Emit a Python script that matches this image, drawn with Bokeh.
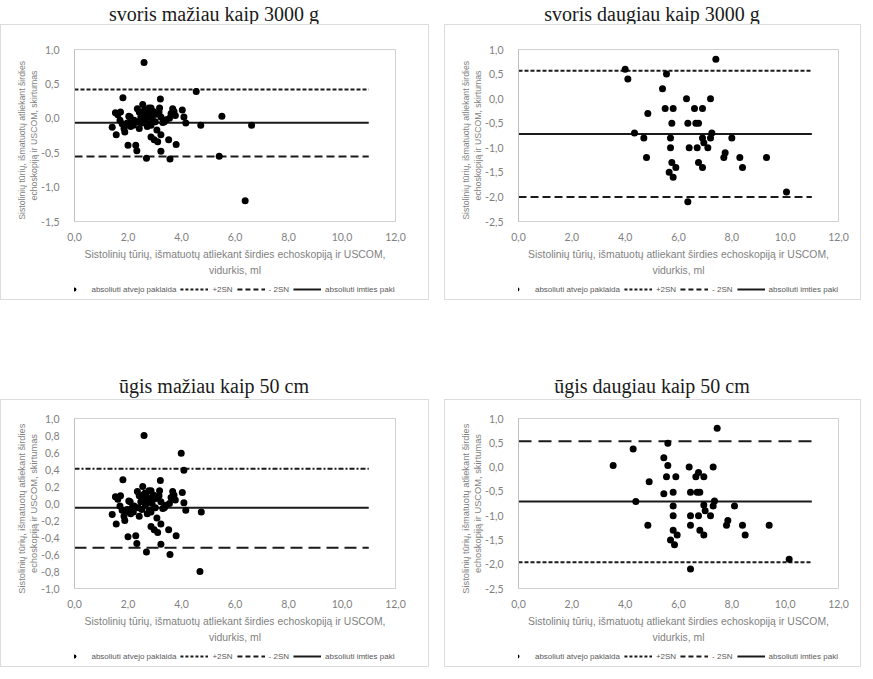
from bokeh.plotting import figure
from bokeh.layouts import column, row
from bokeh.models import FixedTicker, Legend, LegendItem, Range1d, Title
from bokeh.embed import file_html
from bokeh.resources import INLINE

# ---------------- data ----------------
TITLES = ["svoris mažiau kaip 3000 g", "svoris daugiau kaip 3000 g",
          "ūgis mažiau kaip 50 cm", "ūgis daugiau kaip 50 cm"]
X_LABEL_LINES = ["Sistolinių tūrių, išmatuotų atliekant širdies echoskopiją ir USCOM,", "vidurkis, ml"]
Y_LABEL_LINES = ["Sistolinių  tūrių,  išmatuotų  atliekant  širdies", "echoskopiją ir USCOM, skirtumas"]
LEGEND_LABELS = ["absoliuti atvejo paklaida", "+2SN", "- 2SN", "absoliuti imties paklaida"]

X_TICKS = [0, 2, 4, 6, 8, 10, 12]
X_TICK_LABELS = ["0,0", "2,0", "4,0", "6,0", "8,0", "10,0", "12,0"]
Y_TICKS_A = [-1.5, -1.0, -0.5, 0.0, 0.5, 1.0]
Y_TICK_LABELS_A = ["-1,5", "-1,0", "-0,5", "0,0", "0,5", "1,0"]
Y_TICKS_B = [-2.5, -2.0, -1.5, -1.0, -0.5, 0.0, 0.5, 1.0]
Y_TICK_LABELS_B = ["-2,5", "-2,0", "-1,5", "-1,0", "-0,5", "0,0", "0,5", "1,0"]
Y_TICKS_C = [-1.0, -0.8, -0.6, -0.4, -0.2, 0.0, 0.2, 0.4, 0.6, 0.8, 1.0]
Y_TICK_LABELS_C = ["-1,0", "-0,8", "-0,6", "-0,4", "-0,2", "0,0", "0,2", "0,4", "0,6", "0,8", "1,0"]

LINE_X = [0.0, 11.0]

# panel 1: svoris < 3000 g
P1_X = [1.41, 1.56, 1.53, 1.62, 1.72, 1.70, 1.78, 1.81, 1.85, 1.88, 1.92, 1.97, 2.00, 2.03,
        2.08, 2.10, 2.15, 2.20, 2.23, 2.29, 2.33, 2.35, 2.38, 2.42, 2.42, 2.48, 2.52, 2.55,
        2.57, 2.60, 2.60, 2.63, 2.65, 2.69, 2.70, 2.72, 2.75, 2.78, 2.80, 2.83, 2.86, 2.86,
        2.86, 2.90, 2.95, 2.98, 3.02, 3.05, 3.08, 3.11, 3.16, 3.18, 3.21, 3.23, 3.23, 3.23,
        3.30, 3.36, 3.42, 3.52, 3.55, 3.57, 3.61, 3.67, 3.72, 3.77, 3.80, 4.03, 4.09, 4.16,
        4.55, 4.72, 5.41, 5.51, 6.38, 6.62]
P1_Y = [-0.13, -0.24, 0.08, 0.05, 0.09, -0.03, -0.08, 0.30, -0.15, -0.20, -0.10, -0.07, -0.39, 0.03,
        0.02, -0.12, -0.05, -0.10, -0.03, -0.39, -0.47, 0.14, -0.05, 0.09, -0.15, 0.02, -0.07, 0.20,
        0.10, 0.81, 0.05, 0.12, -0.02, -0.58, 0.08, -0.12, 0.02, 0.15, -0.08, 0.05, 0.15, -0.10,
        -0.27, 0.00, 0.10, -0.31, -0.05, 0.06, -0.17, -0.34, 0.09, 0.15, 0.28, 0.02, -0.24, -0.48,
        -0.06, -0.05, -0.02, -0.31, 0.00, -0.59, 0.07, 0.14, 0.10, 0.04, -0.38, 0.12, 0.02, -0.07,
        0.39, -0.10, -0.55, 0.03, -1.20, -0.10]
P1_LIMITS = [0.42, -0.065, -0.555]   # +2SN, mean, -2SN

# panel 2: svoris > 3000 g
P2_X = [4.0, 4.1, 7.4, 5.55, 5.4, 6.3, 7.2, 5.5, 5.8, 6.6, 6.9, 4.85, 5.75, 6.35, 6.65, 6.75,
        4.35, 7.25, 4.7, 5.7, 6.9, 7.2, 8.0, 6.95, 5.7, 6.4, 6.7, 7.1, 4.8, 7.7, 7.75, 8.3,
        9.3, 5.75, 6.75, 5.9, 6.9, 8.4, 5.65, 5.8, 10.05, 6.35]
P2_Y = [0.6, 0.4, 0.8, 0.5, 0.2, 0.0, 0.0, -0.2, -0.2, -0.2, -0.2, -0.3, -0.5, -0.5, -0.5, -0.5,
        -0.7, -0.7, -0.8, -0.8, -0.8, -0.8, -0.8, -0.9, -1.0, -1.0, -1.0, -1.0, -1.2, -1.2, -1.1, -1.2,
        -1.2, -1.3, -1.3, -1.4, -1.4, -1.4, -1.5, -1.6, -1.9, -2.1]
P2_LIMITS = [0.57, -0.72, -2.0]

# panel 3: ūgis < 50 cm
P3_X = [1.41, 1.56, 1.53, 1.62, 1.72, 1.70, 1.78, 1.81, 1.85, 1.88, 1.92, 1.97, 2.00, 2.03,
        2.08, 2.10, 2.15, 2.20, 2.23, 2.29, 2.33, 2.35, 2.38, 2.42, 2.42, 2.48, 2.52, 2.55,
        2.57, 2.60, 2.60, 2.63, 2.65, 2.69, 2.70, 2.72, 2.75, 2.78, 2.80, 2.83, 2.86, 2.86,
        2.86, 2.90, 2.95, 2.98, 3.02, 3.05, 3.08, 3.11, 3.16, 3.18, 3.21, 3.23, 3.23, 3.23,
        3.30, 3.36, 3.42, 3.52, 3.55, 3.57, 3.61, 3.67, 3.72, 3.77, 3.80, 4.03, 4.09, 4.16,
        3.99, 4.09, 4.74, 4.69]
P3_Y = [-0.13, -0.24, 0.08, 0.05, 0.09, -0.03, -0.08, 0.28, -0.15, -0.20, -0.10, -0.07, -0.39, 0.03,
        0.02, -0.12, -0.05, -0.10, -0.03, -0.38, -0.47, 0.14, -0.05, 0.09, -0.15, 0.02, -0.07, 0.20,
        0.10, 0.80, 0.05, 0.12, -0.02, -0.57, 0.08, -0.12, 0.02, 0.15, -0.08, 0.05, 0.15, -0.10,
        -0.27, 0.00, 0.10, -0.31, -0.05, 0.06, -0.17, -0.34, 0.09, 0.15, 0.27, 0.02, -0.24, -0.48,
        -0.06, -0.05, -0.02, -0.31, 0.00, -0.60, 0.07, 0.14, 0.10, 0.04, -0.38, 0.13, 0.01, -0.08,
        0.59, 0.39, -0.10, -0.80]
P3_LIMITS = [0.41, -0.05, -0.52]

# panel 4: ūgis > 50 cm
P4_X = [7.45, 4.3, 5.6, 3.55, 5.45, 5.6, 6.4, 7.3, 5.55, 5.9, 6.65, 6.75, 6.95, 4.9, 5.45, 5.8,
        6.45, 6.7, 6.8, 4.4, 7.35, 5.8, 6.95, 7.3, 8.1, 7.0, 5.8, 6.45, 6.75, 7.2, 4.85, 6.45,
        7.8, 7.85, 8.4, 9.4, 5.8, 6.8, 5.95, 6.95, 8.5, 5.7, 5.85, 10.15, 6.45]
P4_Y = [0.8, 0.37, 0.49, 0.03, 0.19, 0.03, 0.0, 0.0, -0.2, -0.2, -0.2, -0.11, -0.2, -0.3, -0.55, -0.52,
        -0.52, -0.52, -0.52, -0.71, -0.7, -0.8, -0.78, -0.8, -0.8, -0.9, -1.0, -1.0, -1.0, -1.0, -1.2, -1.2,
        -1.2, -1.1, -1.2, -1.2, -1.3, -1.3, -1.4, -1.4, -1.4, -1.5, -1.6, -1.9, -2.1]
P4_LIMITS = [0.53, -0.71, -1.96]

# ---------------- styling ----------------
GRAY = "#7f7f7f"
INK = "#1a1a1a"
SANS = "Liberation Sans"
BOX = {"border": "1px solid #dcdcdc"}


def make_title(text, w, h):
    t = figure(width=w, height=h, output_backend="svg", toolbar_location=None,
               x_axis_type=None, y_axis_type=None, min_border=0,
               outline_line_color=None)
    t.title.text = text
    t.title.align = "center"
    t.title.text_font = "Liberation Serif"
    t.title.text_font_size = "20px"
    t.title.text_font_style = "normal"
    t.title.text_color = INK
    t.title.standoff = 0
    t.xgrid.visible = False
    t.ygrid.visible = False
    return t


def side_title(text, size, standoff):
    return Title(text=text, align="center", text_font=SANS, text_font_size=size,
                 text_font_style="normal", text_color=GRAY, standoff=standoff)


def make_chart(xs, ys, limits, yticks, ylabels, w, h, borders,
               upper_dash, lower_dash, ylab_size):
    p = figure(width=w, height=h, output_backend="svg", toolbar_location=None,
               x_range=Range1d(X_TICKS[0], X_TICKS[-1]),
               y_range=Range1d(yticks[0], yticks[-1]),
               min_border_left=borders[0], min_border_right=borders[1],
               min_border_top=borders[2], min_border_bottom=borders[3],
               outline_line_color="#d0d0d0")
    p.xgrid.visible = False
    p.ygrid.visible = False

    p.xaxis.ticker = FixedTicker(ticks=X_TICKS)
    p.xaxis.major_label_overrides = dict(zip(X_TICKS, X_TICK_LABELS))
    p.yaxis.ticker = FixedTicker(ticks=yticks)
    p.yaxis.major_label_overrides = dict(zip(yticks, ylabels))
    for ax in (p.xaxis[0], p.yaxis[0]):
        ax.major_tick_line_color = None
        ax.minor_tick_line_color = None
        ax.major_label_text_color = GRAY
        ax.major_label_text_font = "Lato"
        ax.major_label_text_font_size = "10.5px"
    p.xaxis.axis_line_color = None
    p.yaxis.axis_line_color = "#c0c0c0"
    p.xaxis.major_label_standoff = 5
    p.yaxis.major_label_standoff = 9

    # axis titles (two lines each), innermost line added first
    p.add_layout(side_title(X_LABEL_LINES[0], "10.4px", 6), "below")
    p.add_layout(side_title(X_LABEL_LINES[1], "10.4px", 0), "below")
    p.add_layout(side_title(Y_LABEL_LINES[1], ylab_size, 0), "left")
    p.add_layout(side_title(Y_LABEL_LINES[0], ylab_size, 0), "left")

    up, mean, low = limits
    p.line(LINE_X, [up, up], line_color=INK, line_width=2, line_dash=upper_dash)
    p.line(LINE_X, [low, low], line_color=INK, line_width=2, line_dash=lower_dash)
    p.line(LINE_X, [mean, mean], line_color=INK, line_width=2)
    p.scatter(xs, ys, size=7, fill_color="black", line_color=None)
    return p


def make_legend(w, h, shift, xs, ys, limits):
    lf = figure(width=w, height=h, output_backend="svg", toolbar_location=None,
                x_axis_type=None, y_axis_type=None, min_border=0,
                min_border_left=shift, outline_line_color=None)
    lf.xgrid.visible = False
    lf.ygrid.visible = False
    up, mean, low = limits
    # hidden copies of the series, used only as legend swatches
    r_pts = lf.scatter(xs, ys, size=6, fill_color="black", line_color=None, visible=False)
    r_short = lf.line(LINE_X, [up, up], line_color=INK, line_width=2, line_dash="3 2", visible=False)
    r_long = lf.line(LINE_X, [low, low], line_color=INK, line_width=2, line_dash="5 3", visible=False)
    r_mean = lf.line(LINE_X, [mean, mean], line_color=INK, line_width=2, visible=False)
    legend = Legend(items=[LegendItem(label=LEGEND_LABELS[0], renderers=[r_pts]),
                           LegendItem(label=LEGEND_LABELS[1], renderers=[r_short]),
                           LegendItem(label=LEGEND_LABELS[2], renderers=[r_long]),
                           LegendItem(label=LEGEND_LABELS[3], renderers=[r_mean])],
                    orientation="horizontal", location="center",
                    border_line_color=None, background_fill_alpha=0,
                    inactive_fill_alpha=0,
                    label_text_font=SANS, label_text_font_size="8px",
                    label_text_color="#595959", glyph_width=28, glyph_height=10,
                    label_standoff=4, spacing=4, padding=12, margin=0,
                    label_height=10)
    lf.add_layout(legend, "center")
    return lf


def panel(title, title_h, chart, w, shift, xs, ys, limits):
    box = column(chart, make_legend(w, 20, shift, xs, ys, limits), spacing=0, styles=BOX)
    return column(make_title(title, w, title_h), box, spacing=0)


LW, RW = 427, 415
H1T, H1 = 24, 254
H2T, H2 = 27, 246

c1 = make_chart(P1_X, P1_Y, P1_LIMITS, Y_TICKS_A, Y_TICK_LABELS_A, LW, H1,
                (73, 33, 24, 58), "4 2", "8 4", "8.7px")
c2 = make_chart(P2_X, P2_Y, P2_LIMITS, Y_TICKS_B, Y_TICK_LABELS_B, RW, H1,
                (73, 22, 24, 58), "4 2", "8 4", "8.7px")
c3 = make_chart(P3_X, P3_Y, P3_LIMITS, Y_TICKS_C, Y_TICK_LABELS_C, LW, H2,
                (73, 33, 18, 58), "5 2 2 2", "12 6", "9.3px")
c4 = make_chart(P4_X, P4_Y, P4_LIMITS, Y_TICKS_B, Y_TICK_LABELS_B, RW, H2,
                (73, 22, 18, 58), "13 7", "4 2", "9.3px")

layout = column(
    row(panel(TITLES[0], H1T, c1, LW, 7, P1_X, P1_Y, P1_LIMITS),
        panel(TITLES[1], H1T, c2, RW, 37, P2_X, P2_Y, P2_LIMITS), spacing=15),
    row(panel(TITLES[2], H2T, c3, LW, 15, P3_X, P3_Y, P3_LIMITS),
        panel(TITLES[3], H2T, c4, RW, 46, P4_X, P4_Y, P4_LIMITS), spacing=15),
    spacing=72)

open("out.html", "w").write(file_html(layout, INLINE))
